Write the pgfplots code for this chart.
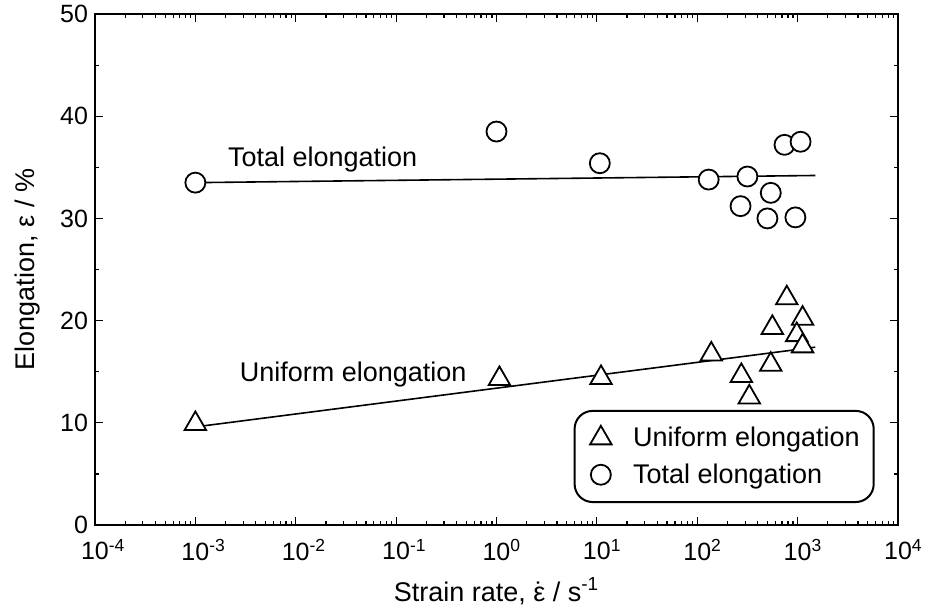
\documentclass[border=0pt]{standalone}
\usepackage{fontspec}
\setmainfont{Liberation Sans}
\usepackage{pgfplots}
\pgfplotsset{compat=1.18}
\newcommand{\epsdot}{\accent"02D9 ε}
\begin{document}
\begin{tikzpicture}
\begin{axis}[
  scale only axis,
  width=401.5pt, height=255.5pt,
  xmode=log, xmin=1e-4, xmax=1e4,
  ymin=0, ymax=50,
  xtick={1e-4,1e-3,1e-2,1e-1,1,1e1,1e2,1e3,1e4},
  xticklabels={10\rlap{\textsuperscript{-4}},10\rlap{\textsuperscript{-3}},10\rlap{\textsuperscript{-2}},10\rlap{\textsuperscript{-1}},10\rlap{\textsuperscript{0}},10\rlap{\textsuperscript{1}},10\rlap{\textsuperscript{2}},10\rlap{\textsuperscript{3}},10\rlap{\textsuperscript{4}}},
  minor xtick={2e-4,3e-4,4e-4,5e-4,6e-4,7e-4,8e-4,9e-4,
    2e-3,3e-3,4e-3,5e-3,6e-3,7e-3,8e-3,9e-3,
    2e-2,3e-2,4e-2,5e-2,6e-2,7e-2,8e-2,9e-2,
    2e-1,3e-1,4e-1,5e-1,6e-1,7e-1,8e-1,9e-1,
    2,3,4,5,6,7,8,9,
    20,30,40,50,60,70,80,90,
    200,300,400,500,600,700,800,900,
    2000,3000,4000,5000,6000,7000,8000,9000},
  ytick={0,10,20,30,40,50},
  minor ytick={5,15,25,35,45},
  xtick pos=both, ytick pos=both,
  xticklabel pos=bottom, yticklabel pos=left,
  tick align=inside,
  major tick length=4pt, minor tick length=2.2pt,
  every tick/.style={black, line width=0.6pt},
  axis line style={line width=1pt},
  tick label style={font=\fontsize{12.5}{15}\selectfont},
  xticklabel style={yshift=-3.5pt},
  /pgf/number format/assume math mode=true,
  xlabel={Strain rate, \epsdot\ / s\textsuperscript{-1}},
  ylabel={Elongation, ε / \%},
  xlabel style={font=\fontsize{13.5}{16}\selectfont, yshift=-2pt},
  ylabel style={font=\fontsize{13.5}{16}\selectfont, yshift=3pt},
  legend style={at={(0.971,0.043)}, anchor=south east, draw=black, line width=1pt,
    rounded corners=9pt, font=\fontsize{13.5}{16}\selectfont,
    inner xsep=5pt, inner ysep=6pt, row sep=3pt},
  legend cell align=left,
  legend image code/.code={\path (0cm,0cm) (0.75cm,0cm); \draw[#1] plot coordinates {(0.27cm,0cm)};},
]
\addplot[black, line width=0.8pt, forget plot] coordinates {(1e-3,33.5) (1500,34.2)};
\addplot[black, line width=0.8pt, forget plot] coordinates {(1e-3,9.6) (1500,17.4)};
\addplot[only marks, mark=triangle*, mark size=6.2pt, line width=0.9pt,
  mark options={draw=black, fill=white}] coordinates {
  (1e-3,9.9) (1.07,14.3) (11,14.4) (138,16.7) (780,22.2) (560,19.3)
  (1120,20.2) (980,18.6) (1120,17.5) (540,15.7) (275,14.6) (330,12.5)
};
\addlegendentry{Uniform elongation}
\addplot[only marks, mark=*, mark size=5pt, line width=0.9pt,
  mark options={draw=black, fill=white}] coordinates {
  (1e-3,33.5) (1.0,38.5) (10.7,35.4) (130,33.8) (316,34.1) (270,31.2)
  (540,32.5) (500,30.0) (950,30.1) (740,37.2) (1070,37.5)
};
\addlegendentry{Total elongation}
\node[anchor=west, inner sep=0pt, font=\fontsize{13.5}{16}\selectfont] at (axis cs:2.1e-3,35.8) {Total elongation};
\node[anchor=west, inner sep=0pt, font=\fontsize{13.5}{16}\selectfont] at (axis cs:2.75e-3,14.7) {Uniform elongation};
\end{axis}
\pgfresetboundingbox
\path[use as bounding box] (-47.5pt,-40.5pt) rectangle (420pt,262.5pt);
\end{tikzpicture}
\end{document}
